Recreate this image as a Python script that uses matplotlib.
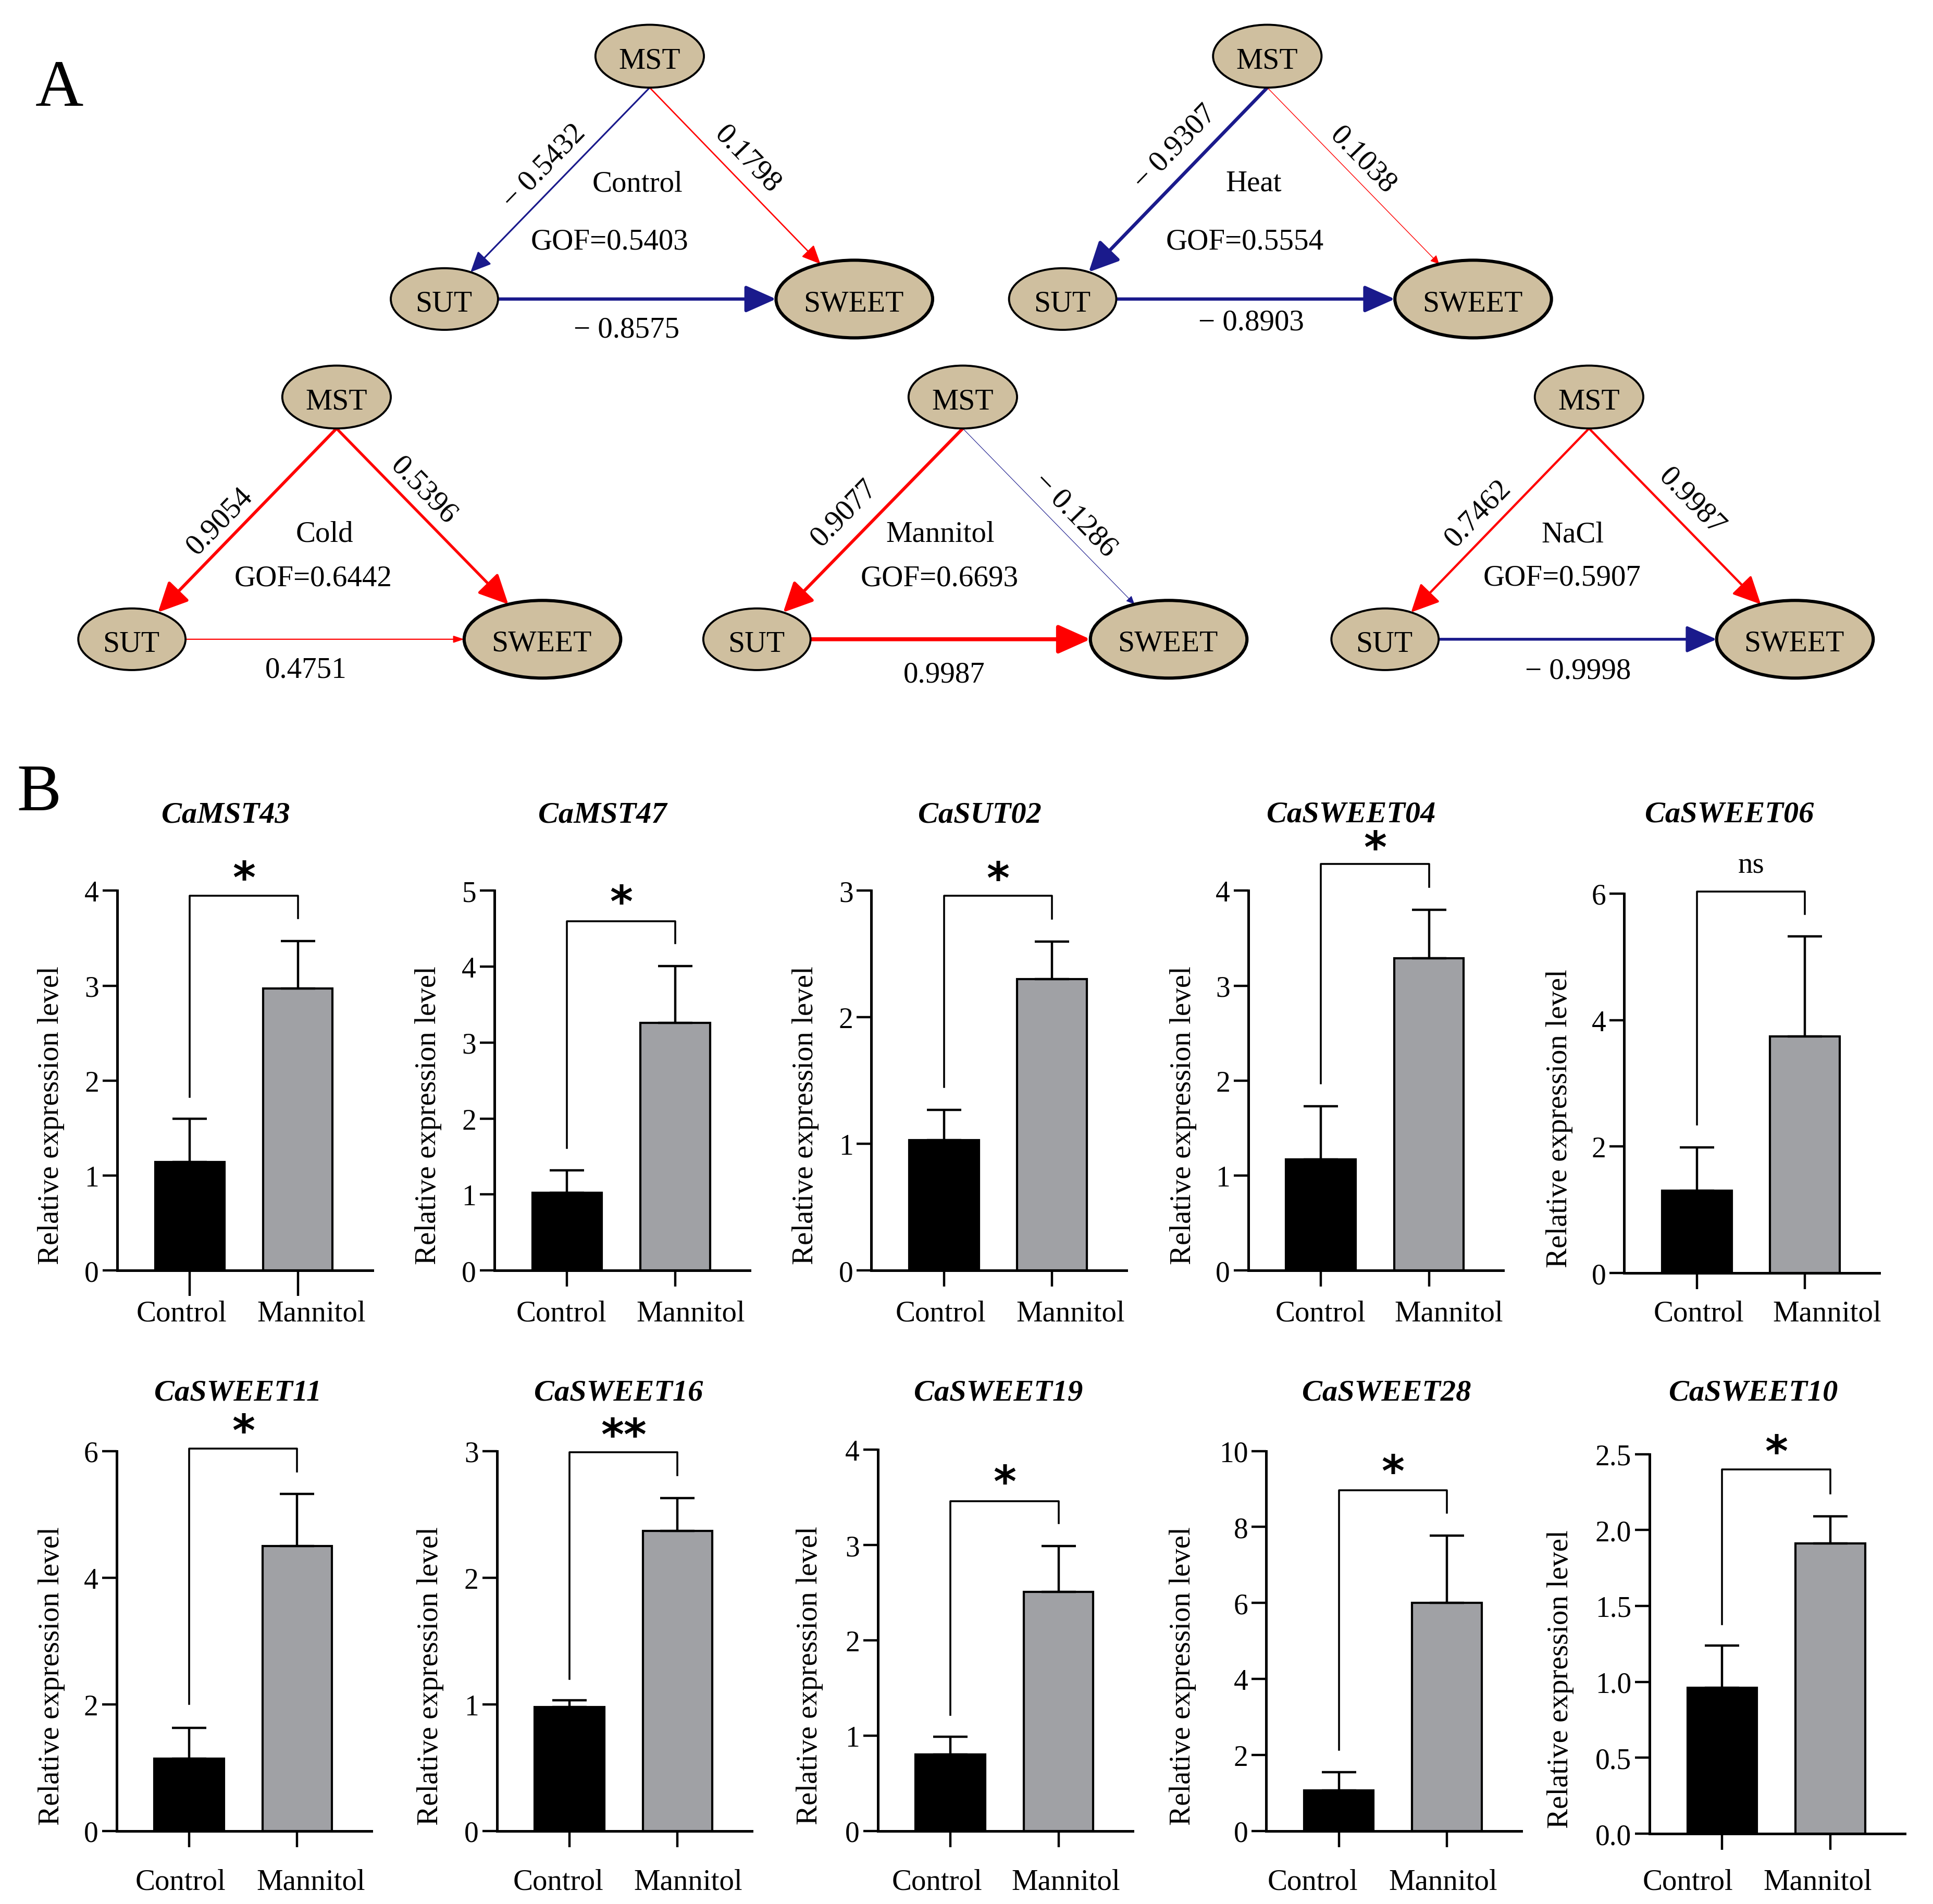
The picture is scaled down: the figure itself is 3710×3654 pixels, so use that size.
import numpy as np
import matplotlib
matplotlib.use("Agg")
import matplotlib.pyplot as plt
from matplotlib.patches import Ellipse, FancyArrowPatch
from matplotlib.transforms import ScaledTranslation, blended_transform_factory
from matplotlib.textpath import TextPath
from matplotlib.font_manager import FontProperties

plt.rcParams['font.family'] = ['Liberation Serif', 'DejaVu Serif']

# ---------------- data : panel A (path coefficients) ----------------
conditions = ['Control', 'Heat', 'Cold', 'Mannitol', 'NaCl']
gof = [0.5403, 0.5554, 0.6442, 0.6693, 0.5907]
coef_mst_sut = [-0.5432, -0.9307, 0.9054, 0.9077, 0.7462]
coef_mst_sweet = [0.1798, 0.1038, 0.5396, -0.1286, 0.9987]
coef_sut_sweet = [-0.8575, -0.8903, 0.4751, 0.9987, -0.9998]
node_names = ['MST', 'SUT', 'SWEET']

# ---------------- data : panel B (qRT-PCR) ----------------
genes = ['CaMST43', 'CaMST47', 'CaSUT02', 'CaSWEET04', 'CaSWEET06',
         'CaSWEET11', 'CaSWEET16', 'CaSWEET19', 'CaSWEET28', 'CaSWEET10']
groups = ['Control', 'Mannitol']
control_mean = [1.14, 1.02, 1.03, 1.17, 1.30, 1.14, 0.98, 0.80, 1.06, 0.96]
control_sd = [0.46, 0.30, 0.24, 0.56, 0.69, 0.49, 0.05, 0.19, 0.49, 0.28]
mannitol_mean = [2.97, 3.26, 2.30, 3.29, 3.74, 4.50, 2.37, 2.51, 6.01, 1.91]
mannitol_sd = [0.50, 0.75, 0.30, 0.51, 1.58, 0.82, 0.26, 0.48, 1.76, 0.18]
significance = ['*', '*', '*', '*', 'ns', '*', '**', '*', '*', '*']
y_max = [4, 5, 3, 4, 6, 6, 3, 4, 10, 2.5]
y_step = [1, 1, 1, 1, 2, 2, 1, 1, 2, 0.5]
bracket_top = [3.95, 4.60, 2.96, 4.28, 6.03, 6.04, 2.99, 3.46, 8.97, 2.40]
bracket_left_end = [1.83, 1.61, 1.45, 1.97, 2.35, 2.01, 1.20, 1.22, 2.14, 1.38]
bracket_right_end = [3.71, 4.31, 2.78, 4.04, 5.68, 5.68, 2.81, 3.23, 8.37, 2.24]
sig_label_y = [4.22, 4.96, 3.16, 4.54, 6.44, 6.45, 3.19, 3.75, 9.68, 2.57]

# ---------------- layout / style ----------------
FIG_W_PX, FIG_H_PX, DPI = 3710, 3655, 100
GW, GH = 1568.0, 1545.0                 # layout grid units
PT = (FIG_W_PX / GW) * 72.0 / DPI       # points per grid unit

SERIF = ['Liberation Serif']
NODE_FILL = '#CFBF9F'
POS_COL = '#FF0000'
NEG_COL = '#1A1A8C'
CTRL_COL = '#000000'
MANN_COL = '#A0A1A5'

mst_xy = [(527, 46), (1028, 46), (273, 322.5), (781, 322.5), (1289, 322.5)]
sut_xy = [(360.5, 243), (862, 243), (107, 519), (614, 519), (1123.5, 519)]
sweet_xy = [(693, 243), (1195, 243), (440, 519), (948, 519), (1456, 519)]
node_size = {'MST': (88, 51), 'SUT': (87, 50), 'SWEET': (127, 63)}
node_lw = {'MST': 2.8, 'SUT': 2.8, 'SWEET': 4.4}
cond_xy = [(517.4, 147.2), (1017, 147), (263.6, 431), (763, 431), (1275.8, 431.5)]
gof_xy = [(494.7, 194.3), (1010, 194.3), (254, 467.5), (762, 467.5), (1267, 467)]
labL_xy = [(440, 134), (952, 118), (177, 421.3), (683.6, 414.7), (1197.4, 415.3)]
labR_xy = [(607.8, 128.3), (1107, 128.7), (345, 396.8), (873.5, 416.6), (1373.6, 405.8)]
labB_xy = [(508.3, 266), (1015, 259.8), (247.7, 542), (766, 545.9), (1280, 542.7)]
# (linewidth pt, head length pt, head half-width pt) for L, R, B edges
edge_style = [
    [(2.3, 24, 11), (1.9, 22, 10), (4.5, 36, 16)],
    [(4.7, 35, 17), (1.0, 10, 5), (4.5, 36, 16)],
    [(4.2, 35, 17), (3.8, 35, 17), (1.6, 12, 4)],
    [(4.3, 35, 17), (0.8, 10, 4.5), (5.5, 38, 17)],
    [(3.1, 33, 16), (3.1, 33, 16), (3.9, 36, 16)],
]

spine_x = [95, 401, 706.7, 1012.5, 1317.4, 94.5, 403, 712, 1027, 1338]
axis_top = [723, 723, 723, 723, 725.3, 1177.6, 1177.6, 1176.5, 1177.5, 1180]
axis_bot = [1031, 1031, 1031, 1031, 1033.2, 1485.7, 1485.7, 1485.7, 1485.7, 1488]
AXW = 207.0
X0_OFF, X_UNIT = 59.0, 87.6
XLIM = (-X0_OFF / X_UNIT, (AXW - X0_OFF) / X_UNIT)
BAR_W = 56.5 / X_UNIT
title_off = [88, 88.6, 88, 83.5, 85.6, 97.5, 99, 98, 98, 84.6]
title_y = [659, 1128]
ylabel_off = [-54, -53.7, -53.7, -53, -52.8, -53, -54.3, -55.4, -67.7, -72.3]
ctrl_shift = [-6.6, -4.5, -2.5, -0.5, 1.5, -7, -9, -11, -21, -28]
mann_shift = [11, 12.6, 15, 16, 18, 11, 8.5, 6, -3, -10]
xtick_len = [35, 22, 22, 22, 22, 22, 22, 22, 22, 22]
group_label_top = [1054.7, 1516.1]      # grid y of the top of the group labels per row

fig = plt.figure(figsize=(FIG_W_PX / DPI, FIG_H_PX / DPI), dpi=DPI)
fig.patch.set_facecolor('white')

axA = fig.add_axes([0, 0, 1, 1])
axA.set_xlim(0, GW)
axA.set_ylim(GH, 0)
axA.axis('off')


def put_text(ax, x, y, s, size, rotation=0.0, family=None, weight='normal',
             style='normal', transform=None, color='black', zorder=5):
    """Place text so that its ink centre lands on (x, y)."""
    fp = FontProperties(family=family or SERIF, size=size, weight=weight, style=style)
    tp = TextPath((0, 0), s, size=size, prop=fp)
    ext = tp.get_extents()
    cx, cy = (ext.x0 + ext.x1) / 2.0, (ext.y0 + ext.y1) / 2.0
    th = np.radians(rotation)
    ox = -(cx * np.cos(th) - cy * np.sin(th))
    oy = -(cx * np.sin(th) + cy * np.cos(th))
    base = transform if transform is not None else ax.transData
    tr = base + ScaledTranslation(ox / 72.0, oy / 72.0, fig.dpi_scale_trans)
    ax.text(x, y, s, fontproperties=fp, rotation=rotation, rotation_mode='anchor',
            ha='left', va='baseline', transform=tr, color=color, zorder=zorder)


def boundary(center, size, towards):
    cx, cy = center
    a, b = size[0] / 2.0, size[1] / 2.0
    dx, dy = towards[0] - cx, towards[1] - cy
    s = 1.0 / np.sqrt((dx / a) ** 2 + (dy / b) ** 2)
    return (cx + dx * s, cy + dy * s)


def fmt_coef(v):
    return ('\u2212 ' + f'{abs(v):.4f}') if v < 0 else f'{v:.4f}'


sx = FIG_W_PX / GW
sy = FIG_H_PX / GH

# ---------------- panel A ----------------
for k, cond in enumerate(conditions):
    centers = {'MST': mst_xy[k], 'SUT': sut_xy[k], 'SWEET': sweet_xy[k]}
    for name in node_names:
        w, h = node_size[name]
        cx, cy = centers[name]
        axA.add_patch(Ellipse((cx, cy), w, h, facecolor=NODE_FILL, edgecolor='black',
                              lw=node_lw[name], zorder=3))
        put_text(axA, cx, cy + 1.5, name, 41.5)

    mx, my = centers['MST']
    mst_bottom = (mx, my + node_size['MST'][1] / 2.0)
    edges = [
        (mst_bottom, boundary(centers['SUT'], node_size['SUT'], mst_bottom),
         coef_mst_sut[k], labL_xy[k], True),
        (mst_bottom, boundary(centers['SWEET'], node_size['SWEET'], mst_bottom),
         coef_mst_sweet[k], labR_xy[k], True),
        (boundary(centers['SUT'], node_size['SUT'], centers['SWEET']),
         boundary(centers['SWEET'], node_size['SWEET'], centers['SUT']),
         coef_sut_sweet[k], labB_xy[k], False),
    ]
    for e, (p0, p1, coef, lxy, rot) in enumerate(edges):
        lw, hl, hw = edge_style[k][e]
        col = POS_COL if coef > 0 else NEG_COL
        arr = FancyArrowPatch(p0, p1, arrowstyle=f'-|>,head_length={hl},head_width={hw}',
                              mutation_scale=1, lw=lw, color=col, shrinkA=0, shrinkB=0,
                              zorder=2)
        axA.add_patch(arr)
        angle = 0.0
        if rot:
            ang = np.degrees(np.arctan2(-(p1[1] - p0[1]) * sy, (p1[0] - p0[0]) * sx))
            if ang > 90:
                ang -= 180
            if ang <= -90:
                ang += 180
            angle = ang
        put_text(axA, lxy[0], lxy[1], fmt_coef(coef), 41, rotation=angle)
    put_text(axA, cond_xy[k][0], cond_xy[k][1], cond, 41)
    put_text(axA, gof_xy[k][0], gof_xy[k][1], f'GOF={gof[k]:.4f}', 41)

put_text(axA, 48, 68, 'A', 92)
put_text(axA, 31, 639.6, 'B', 92)

# star size from target ink height
_star_fp = FontProperties(family=['DejaVu Sans'], weight='bold', size=100)
_h100 = TextPath((0, 0), '*', size=100, prop=_star_fp).get_extents().height
STAR_FS = 28.0 * 100.0 / _h100

# ---------------- panel B ----------------
for i, gene in enumerate(genes):
    row = 0 if i < 5 else 1
    X0, yt, yb = spine_x[i], axis_top[i], axis_bot[i]
    ax = fig.add_axes([X0 / GW, 1 - yb / GH, AXW / GW, (yb - yt) / GH])
    ax.set_facecolor('none')
    xs = np.arange(len(groups))
    means = [control_mean[i], mannitol_mean[i]]
    errs = [control_sd[i], mannitol_sd[i]]
    ax.bar(xs, means, width=BAR_W, color=[CTRL_COL, MANN_COL], edgecolor='black',
           linewidth=3, zorder=2)
    ax.errorbar(xs, means, yerr=[np.zeros(len(xs)), errs], fmt='none', ecolor='black',
                elinewidth=3.2, capsize=24, capthick=3.2, zorder=3)
    ax.plot([0, 0, 1, 1],
            [bracket_left_end[i], bracket_top[i], bracket_top[i], bracket_right_end[i]],
            color='black', lw=2.6, clip_on=False, zorder=4)
    ax.set_xlim(*XLIM)
    ax.set_ylim(0, y_max[i])
    yv = np.arange(0, y_max[i] + y_step[i] / 2.0, y_step[i])
    ax.set_yticks(yv)
    ax.set_yticklabels([f'{v:.1f}' if y_step[i] < 1 else f'{v:.0f}' for v in yv],
                       fontsize=40)
    ax.set_xticks(xs)
    ax.tick_params(axis='x', labelbottom=False, length=xtick_len[i], width=3.2,
                   direction='out')
    ax.tick_params(axis='y', length=20, width=3.2, pad=5, direction='out')
    for s in ['top', 'right']:
        ax.spines[s].set_visible(False)
    for s in ['left', 'bottom']:
        ax.spines[s].set_linewidth(3.6)
    ax.set_ylabel('Relative expression level', fontsize=41)
    ax.yaxis.set_label_coords((ylabel_off[i] + 11.2) / AXW, 0.409)

    shifts = [ctrl_shift[i], mann_shift[i]]
    for j, g in enumerate(groups):
        tr = blended_transform_factory(ax.transData, axA.transData) + \
            ScaledTranslation(shifts[j] * PT / 72.0, 0, fig.dpi_scale_trans)
        ax.text(j, group_label_top[row], g, ha='center', va='top', fontsize=41,
                transform=tr, clip_on=False)

    sig = significance[i]
    if sig == 'ns':
        put_text(ax, 0.5, sig_label_y[i], sig, 41)
    else:
        put_text(ax, 0.5, sig_label_y[i], sig, STAR_FS, family=['DejaVu Sans'],
                 weight='bold')

    put_text(axA, X0 + title_off[i], title_y[row], gene, 42, weight='bold',
             style='italic')

fig.savefig('out.png', dpi=DPI, facecolor='white')
